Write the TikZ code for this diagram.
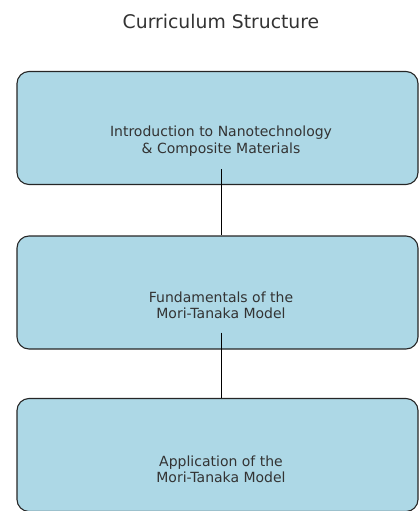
\documentclass[tikz,border=0pt]{standalone}
\usepackage{fontspec}
\setmainfont{DejaVu Sans}
\usetikzlibrary{positioning}
\definecolor{boxfill}{HTML}{ADD8E6}
\definecolor{inkgray}{HTML}{333333}
\tikzset{
x=1pt, y=1pt,
stage/.style={draw=black!85, line width=1.1pt, fill=boxfill, rounded corners=12pt, minimum width=401pt, minimum height=113pt, inner sep=0pt}, % one block of the course
stagetext/.style={text=inkgray, align=center, font=\fontsize{14}{16.3}\selectfont}, % text inside a block
link/.style={draw=black, line width=1pt}, % line between blocks
}
\begin{document}
\begin{tikzpicture}
            \useasboundingbox (0,0) rectangle (419,-511);
            \node[text=inkgray, font=\fontsize{18.8}{22}\selectfont] (title) at (221,-21) {Curriculum Structure};

            \node[stage] (intro) at (217.5,-128) {};
            \node[stage] (fund) at (217.5,-292.5) {};
            \node[stage] (appl) at (217.5,-455) {};

            \node[stagetext] (introtxt) at ([shift={(3.5,-13)}]intro.center) {Introduction to Nanotechnology\\\& Composite Materials};
            \node[stagetext] (fundtxt) at ([shift={(3.5,-13)}]fund.center) {Fundamentals of the\\Mori-Tanaka Model};
            \node[stagetext] (appltxt) at ([shift={(3.5,-14)}]appl.center) {Application of the\\Mori-Tanaka Model};

            \draw[link] ([yshift=-10pt]introtxt.south) -- (fund.north -| introtxt);
            \draw[link] ([yshift=-10pt]fundtxt.south) -- (appl.north -| fundtxt);
        \end{tikzpicture}
\end{document}
